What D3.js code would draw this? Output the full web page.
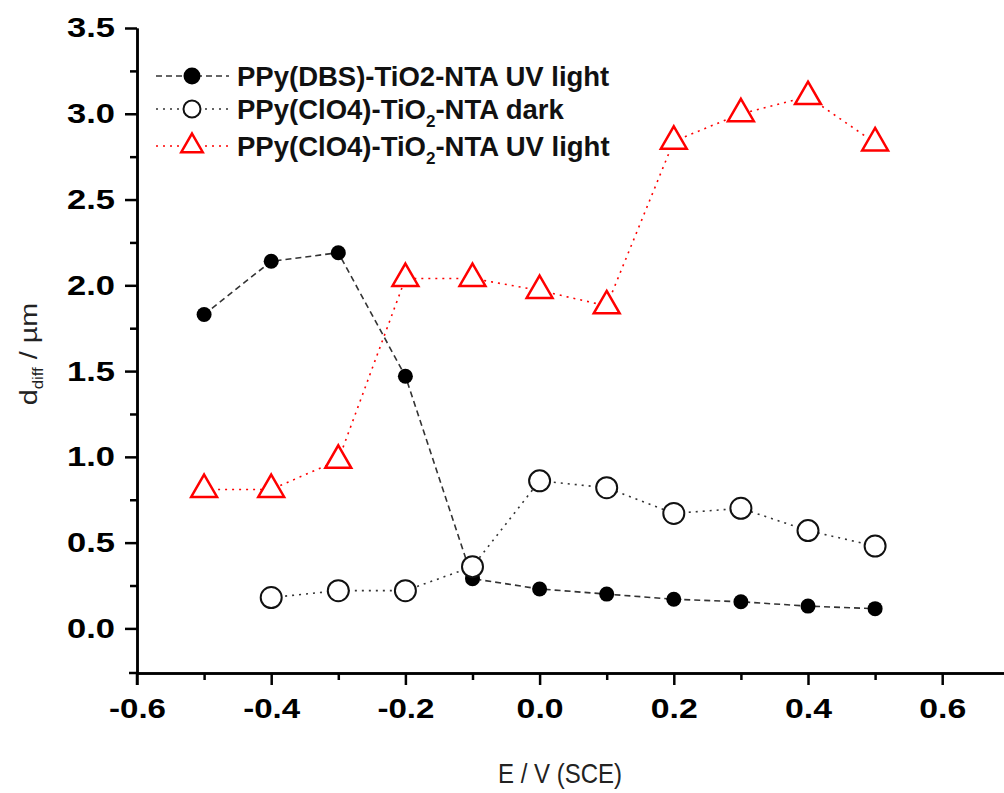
<!DOCTYPE html>
<html>
<head>
<meta charset="utf-8">
<script src="https://cdn.jsdelivr.net/npm/d3@7"></script>
<style>
body { margin: 0; background: white; }
text { font-family: "Liberation Sans", Arial, sans-serif; }
</style>
</head>
<body>
<svg width="1004" height="793"></svg>
<script>
var potentials = [-0.5, -0.4, -0.3, -0.2, -0.1, 0.0, 0.1, 0.2, 0.3, 0.4, 0.5];
var dbsLight = [1.83, 2.14, 2.19, 1.47, 0.29, 0.23, 0.20, 0.17, 0.155, 0.13, 0.115];
var clo4Dark = [null, 0.18, 0.22, 0.22, 0.36, 0.86, 0.82, 0.67, 0.70, 0.57, 0.48];
var clo4Light = [0.81, 0.81, 0.98, 2.04, 2.04, 1.97, 1.88, 2.84, 3.00, 3.10, 2.83];
var xTicks = [-0.6, -0.4, -0.2, 0.0, 0.2, 0.4, 0.6];
var yTicks = [0.0, 0.5, 1.0, 1.5, 2.0, 2.5, 3.0, 3.5];

var svg = d3.select("svg");
var plotLeft = 137, plotTop = 28, plotBottom = 673;

var x = d3.scaleLinear().domain([-0.6, 0.7]).range([plotLeft, plotLeft + 1.3 * 671]);
var y = d3.scaleLinear().domain([-0.26, 3.5]).range([plotBottom, plotTop]);

function fmt(d){ return d.toFixed(1); }

// axes
var xAxis = d3.axisBottom(x).tickValues(xTicks).tickFormat(fmt).tickSize(12).tickSizeOuter(0);
var xMinor = d3.axisBottom(x).tickValues(d3.range(-0.5, 0.7, 0.2)).tickFormat("").tickSize(7).tickSizeOuter(0);
var yAxis = d3.axisLeft(y).tickValues(yTicks).tickFormat(fmt).tickSize(12).tickSizeOuter(0);
var yMinor = d3.axisLeft(y).tickValues(d3.range(0.25, 3.5, 0.5)).tickFormat("").tickSize(7).tickSizeOuter(0);

function styleAxis(g){
    g.select(".domain").attr("stroke", "#000").attr("stroke-width", 2.5);
    g.selectAll(".tick line").attr("stroke", "#000").attr("stroke-width", 2.5);
    g.selectAll(".tick text").attr("fill", "#000")
        .style("font-size", "28px").style("font-weight", "bold")
        .attr("lengthAdjust", "spacingAndGlyphs");
}

svg.append("g").attr("transform", "translate(0," + plotBottom + ")").call(xMinor).call(styleAxis);
svg.append("g").attr("transform", "translate(0," + plotBottom + ")").call(xAxis).call(styleAxis)
    .selectAll(".tick text").attr("y", 45).attr("dy", null)
    .attr("textLength", function(d){ return d < 0 ? 57 : 47; });
svg.append("g").attr("transform", "translate(" + plotLeft + ",0)").call(yMinor).call(styleAxis);
svg.append("g").attr("transform", "translate(" + plotLeft + ",0)").call(yAxis).call(styleAxis)
    .selectAll(".tick text").attr("x", -22).attr("textLength", 48);

// small overshoot where the two axes cross
svg.append("line").attr("x1", plotLeft - 8).attr("x2", plotLeft).attr("y1", plotBottom).attr("y2", plotBottom)
    .attr("stroke", "#000").attr("stroke-width", 2.5);
svg.append("line").attr("x1", plotLeft).attr("x2", plotLeft).attr("y1", plotBottom).attr("y2", plotBottom + 12)
    .attr("stroke", "#000").attr("stroke-width", 2.5);

// axis titles
svg.append("text").attr("x", 560).attr("y", 783).attr("text-anchor", "middle")
    .attr("transform", "translate(560,783) scale(1,1.15) translate(-560,-783)")
    .style("font-size", "24px").attr("fill", "#222").text("E / V (SCE)");

var yl = svg.append("text").attr("transform", "translate(37,354) rotate(-90) scale(1.2,1)")
    .attr("text-anchor", "middle").style("font-size", "24px").attr("fill", "#222");
yl.append("tspan").text("d");
yl.append("tspan").attr("dy", 6).style("font-size", "14px").text("diff");
yl.append("tspan").attr("dy", -6).text(" / \u00b5m");

// series
function pts(vals){
    return potentials.map(function(p, i){ return {x: p, y: vals[i]}; })
        .filter(function(d){ return d.y !== null; });
}
var line = d3.line().x(function(d){ return x(d.x); }).y(function(d){ return y(d.y); });

var series = [
    {name: "dbs", data: pts(dbsLight), stroke: "#333", dash: "6,4", width: 1.6},
    {name: "dark", data: pts(clo4Dark), stroke: "#333", dash: "2,5", width: 1.6},
    {name: "light", data: pts(clo4Light), stroke: "#f00", dash: "2,5", width: 1.6}
];
series.forEach(function(s){
    svg.append("path").datum(s.data).attr("d", line)
        .attr("fill", "none").attr("stroke", s.stroke)
        .attr("stroke-width", s.width).attr("stroke-dasharray", s.dash);
});

function drawMarker(g, kind, cx, cy, small){
    if(kind == "dbs")
        g.append("circle").attr("cx", cx).attr("cy", cy).attr("r", small ? 8.5 : 7.5).attr("fill", "#000");
    else if(kind == "dark")
        g.append("circle").attr("cx", cx).attr("cy", cy).attr("r", small ? 8.5 : 10.5)
            .attr("fill", "#fff").attr("stroke", "#111").attr("stroke-width", 2);
    else
        g.append("path").attr("d", d3.symbol().type(d3.symbolTriangle).size(small ? 200 : 290))
            .attr("transform", "translate(" + cx + "," + cy + ")")
            .attr("fill", "#fff").attr("stroke", "#f00").attr("stroke-width", 2.5);
}

var marks = svg.append("g");
series.forEach(function(s){
    s.data.forEach(function(d){ drawMarker(marks, s.name, x(d.x), y(d.y), false); });
});

// legend
var legendNames = ["PPy(DBS)-TiO2-NTA UV light", "PPy(ClO4)-TiO", "PPy(ClO4)-TiO"];
var legendTails = ["", "-NTA dark", "-NTA UV light"];
var legendY = [76, 109, 146];
var lg = svg.append("g");
series.forEach(function(s, i){
    lg.append("line").attr("x1", 156).attr("x2", 229).attr("y1", legendY[i]).attr("y2", legendY[i])
        .attr("stroke", s.stroke).attr("stroke-width", s.width).attr("stroke-dasharray", s.dash);
    drawMarker(lg, s.name, 192, legendY[i], true);
    var t = lg.append("text").attr("x", 237).attr("y", legendY[i] + 10)
        .style("font-size", "27.5px").style("font-weight", "bold").attr("fill", "#111");
    t.append("tspan").text(legendNames[i]);
    if(i > 0){
        t.append("tspan").attr("dy", 8).style("font-size", "17px").text("2");
        t.append("tspan").attr("dy", -8).text(legendTails[i]);
    }
});
</script>
</body>
</html>
